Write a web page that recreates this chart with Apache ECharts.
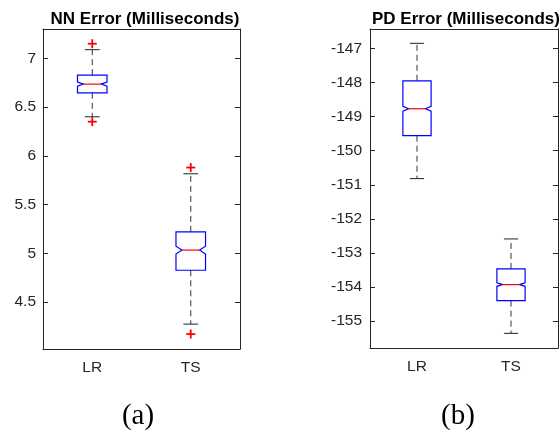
<!DOCTYPE html>
<html>
<head>
<meta charset="utf-8">
<script src="https://cdn.jsdelivr.net/npm/echarts@6/dist/echarts.min.js"></script>
<style>
  html, body { margin: 0; padding: 0; background: #fff; }
  #chart { width: 559px; height: 433px; }
</style>
</head>
<body>
<div id="chart"></div>
<script>
// Groups on the x axis
const categories = ['LR', 'TS'];

// NN error: [lower whisker, Q1, median, Q3, upper whisker] per group
const nnBoxes = [
  [6.400, 6.646, 6.735, 6.827, 7.088],
  [4.275, 4.827, 5.034, 5.221, 5.816]
];
// half-height of the median notch
const nnNotch = [0.022, 0.040];
// outliers as [group index, value]
const nnOutliers = [[0, 7.149], [0, 6.350], [1, 5.880], [1, 4.173]];
const nnRange = [4.02, 7.30];
const nnTicks = [4.5, 5, 5.5, 6, 6.5, 7];

// PD error
const pdBoxes = [
  [-150.82, -149.56, -148.77, -147.95, -146.85],
  [-155.36, -154.40, -153.93, -153.47, -152.59]
];
const pdNotch = [0.070, 0.050];
const pdOutliers = [];
const pdRange = [-155.79, -146.43];
const pdTicks = [-155, -154, -153, -152, -151, -150, -149, -148, -147];

const FONT = "'Liberation Sans', Arial, Helvetica, sans-serif";
const AXIS_COLOR = '#262626';
const LABEL_SIZE = 15.5;

function boxRenderer(notches) {
  return function (params, api) {
    const i = api.value(0);
    const band = api.size([1, 0])[0];
    const boxW = band * 0.30;
    const capW = band * 0.15;
    const inset = boxW * 0.2;
    const cx = api.coord([i, api.value(3)])[0];
    const y = k => api.coord([i, api.value(k)])[1];
    const lo = y(1), q1 = y(2), med = y(3), q3 = y(4), hi = y(5);
    const nHi = api.coord([i, api.value(3) + notches[i]])[1];
    const nLo = api.coord([i, api.value(3) - notches[i]])[1];
    const l = cx - boxW / 2, r = cx + boxW / 2;
    const whisker = { stroke: '#333', lineWidth: 1, lineDash: [6, 4] };
    const cap = { stroke: '#222', lineWidth: 1 };
    return {
      type: 'group',
      children: [
        { type: 'line', shape: { x1: cx, y1: q3, x2: cx, y2: hi }, style: whisker },
        { type: 'line', shape: { x1: cx, y1: q1, x2: cx, y2: lo }, style: whisker },
        { type: 'line', shape: { x1: cx - capW / 2, y1: hi, x2: cx + capW / 2, y2: hi }, style: cap },
        { type: 'line', shape: { x1: cx - capW / 2, y1: lo, x2: cx + capW / 2, y2: lo }, style: cap },
        {
          type: 'polygon',
          shape: { points: [
            [l, q3], [r, q3], [r, nHi], [r - inset, med], [r, nLo], [r, q1],
            [l, q1], [l, nLo], [l + inset, med], [l, nHi]
          ] },
          style: { fill: 'none', stroke: '#0000ff', lineWidth: 1.2 }
        },
        { type: 'line', shape: { x1: l + inset, y1: med, x2: r - inset, y2: med },
          style: { stroke: '#ff0000', lineWidth: 1.2 } }
      ]
    };
  };
}

function plusRenderer(params, api) {
  const p = api.coord([api.value(0), api.value(1)]);
  const s = 4.5;
  const st = { stroke: '#ff0000', lineWidth: 1.8 };
  return {
    type: 'group',
    children: [
      { type: 'line', shape: { x1: p[0] - s, y1: p[1], x2: p[0] + s, y2: p[1] }, style: st },
      { type: 'line', shape: { x1: p[0], y1: p[1] - s, x2: p[0], y2: p[1] + s }, style: st }
    ]
  };
}

function xAxes(grid) {
  const base = {
    type: 'category', gridIndex: grid, data: categories, boundaryGap: true,
    axisLine: { lineStyle: { color: AXIS_COLOR, width: 1 } },
    axisTick: { inside: true, alignWithLabel: true, length: 5, lineStyle: { color: AXIS_COLOR } },
    splitLine: { show: false }
  };
  return [
    Object.assign({}, base, { position: 'bottom',
      axisLabel: { color: AXIS_COLOR, fontSize: LABEL_SIZE, fontFamily: FONT, margin: 11 } }),
    Object.assign({}, base, { position: 'top', axisLabel: { show: false } })
  ];
}

function yAxes(grid, range, ticks, margin) {
  const base = {
    type: 'value', gridIndex: grid, min: range[0], max: range[1], scale: true,
    axisLine: { show: true, lineStyle: { color: AXIS_COLOR, width: 1 } },
    axisTick: { show: true, inside: true, length: 5, customValues: ticks, lineStyle: { color: AXIS_COLOR } },
    splitLine: { show: false }
  };
  return [
    Object.assign({}, base, { position: 'left',
      axisLabel: { color: AXIS_COLOR, fontSize: LABEL_SIZE, fontFamily: FONT, margin: margin, customValues: ticks } }),
    Object.assign({}, base, { position: 'right', axisLabel: { show: false, customValues: ticks } })
  ];
}

const chart = echarts.init(document.getElementById('chart'), null, { renderer: 'canvas' });

chart.setOption({
  backgroundColor: '#ffffff',
  animation: false,
  title: [
    { text: 'NN Error (Milliseconds)', left: 140, top: 6, textAlign: 'center',
      textStyle: { fontSize: 17, fontWeight: 'bold', color: '#000', fontFamily: FONT } },
    { text: 'PD Error (Milliseconds)', left: 461, top: 6, textAlign: 'center',
      textStyle: { fontSize: 17, fontWeight: 'bold', color: '#000', fontFamily: FONT } }
  ],
  grid: [
    { left: 43, top: 29, width: 197, height: 320 },
    { left: 370, top: 29, width: 188, height: 319 }
  ],
  xAxis: [].concat(xAxes(0), xAxes(1)),
  yAxis: [].concat(yAxes(0, nnRange, nnTicks, 7), yAxes(1, pdRange, pdTicks, 8)),
  series: [
    { type: 'custom', xAxisIndex: 0, yAxisIndex: 0, clip: false,
      renderItem: boxRenderer(nnNotch),
      data: nnBoxes.map((b, i) => [i].concat(b)) },
    { type: 'custom', xAxisIndex: 0, yAxisIndex: 0, clip: false,
      renderItem: plusRenderer, data: nnOutliers },
    { type: 'custom', xAxisIndex: 2, yAxisIndex: 2, clip: false,
      renderItem: boxRenderer(pdNotch),
      data: pdBoxes.map((b, i) => [i].concat(b)) },
    { type: 'custom', xAxisIndex: 2, yAxisIndex: 2, clip: false,
      renderItem: plusRenderer, data: pdOutliers }
  ],
  graphic: [
    { type: 'text', x: 138, y: 416,
      style: { text: '(a)', font: "29px 'Liberation Serif', 'Times New Roman', serif",
        fill: '#000', textAlign: 'center', textVerticalAlign: 'middle' } },
    { type: 'text', x: 458, y: 416,
      style: { text: '(b)', font: "29px 'Liberation Serif', 'Times New Roman', serif",
        fill: '#000', textAlign: 'center', textVerticalAlign: 'middle' } }
  ]
});
</script>
</body>
</html>
